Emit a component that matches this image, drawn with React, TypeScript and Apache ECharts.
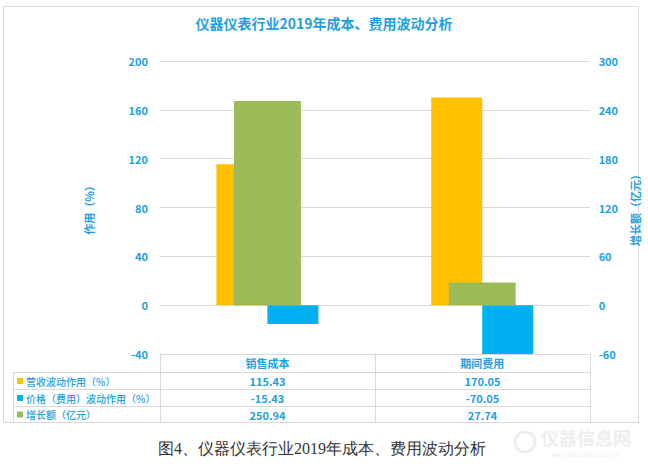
import React, { useEffect, useRef } from "react";
import * as echarts from "echarts";

const categories = ["销售成本", "期间费用"];
const seriesNames = ["营收波动作用（%）", "价格（费用）波动作用（%）", "增长额（亿元）"];
const revenueEffect = [115.43, 170.05];
const priceEffect = [-15.43, -70.05];
const growthAmount = [250.94, 27.74];
const seriesColors = ["#FFC000", "#00B0F0", "#9BBB59"];
const leftTicks = { min: -40, max: 200, interval: 40 };
const rightTicks = { min: -60, max: 300, interval: 60 };
const titleText = "仪器仪表行业2019年成本、费用波动分析";
const captionText = "图4、仪器仪表行业2019年成本、费用波动分析";

const W = 648;
const H = 464;
const GRID = { left: 160, right: 58, top: 61, bottom: 110 };
const TXT = "#1F9FDF";
const LINE = "#D9D9D9";
const FONT = "'Noto Sans CJK SC', 'Noto Sans', sans-serif";

export default function App() {
  const ref = useRef<HTMLDivElement>(null);
  useEffect(() => {
    if (!ref.current) return;
    const chart = echarts.init(ref.current, null, { renderer: "svg" });
    const x0 = GRID.left;
    const x1 = W - GRID.right;
    const catW = (x1 - x0) / categories.length;
    const tTop = H - GRID.bottom;
    const rowLines = [tTop + 18, tTop + 35, tTop + 52, tTop + 68];
    const tableLeft = 13;
    const rows = [revenueEffect, priceEffect, growthAmount];
    const graphics: any[] = [];
    graphics.push({
      type: "rect",
      shape: { x: 3.5, y: 6.5, width: 635, height: 416 },
      style: { fill: "none", stroke: LINE, lineWidth: 1 },
      silent: true,
    });
    rowLines.forEach((y) => {
      graphics.push({
        type: "line",
        shape: { x1: tableLeft, y1: y + 0.5, x2: x1, y2: y + 0.5 },
        style: { stroke: LINE, lineWidth: 1 },
      });
    });
    graphics.push({
      type: "line",
      shape: { x1: tableLeft + 0.5, y1: rowLines[0], x2: tableLeft + 0.5, y2: rowLines[3] },
      style: { stroke: LINE, lineWidth: 1 },
    });
    for (let i = 0; i <= categories.length; i++) {
      const x = Math.round(x0 + catW * i) + 0.5;
      graphics.push({
        type: "line",
        shape: { x1: x, y1: tTop, x2: x, y2: rowLines[3] },
        style: { stroke: LINE, lineWidth: 1 },
      });
    }
    rows.forEach((vals, r) => {
      const yc = (rowLines[r] + rowLines[r + 1]) / 2 + 0.5;
      graphics.push({
        type: "rect",
        shape: { x: 17, y: yc - 3, width: 6, height: 6 },
        style: { fill: seriesColors[r] },
      });
      graphics.push({
        type: "text",
        x: 26,
        y: yc,
        style: {
          text: seriesNames[r],
          fill: TXT,
          font: `500 10px ${FONT}`,
          verticalAlign: "middle",
          align: "left",
        },
      });
      vals.forEach((v, c) => {
        graphics.push({
          type: "text",
          x: x0 + catW * (c + 0.5),
          y: yc,
          style: {
            text: v.toFixed(2),
            fill: TXT,
            font: `bold 11px ${FONT}`,
            verticalAlign: "middle",
            align: "center",
          },
        });
      });
    });
    graphics.push({
      type: "text",
      x: 158,
      y: 448,
      style: {
        text: captionText,
        fill: "#333333",
        font: "16px serif",
        verticalAlign: "middle",
        align: "left",
      },
    });
    graphics.push({
      type: "text",
      x: 586,
      y: 437,
      style: {
        text: "仪器信息网",
        fill: "#EEEEEE",
        font: `bold 18px ${FONT}`,
        verticalAlign: "middle",
        align: "center",
      },
    });
    graphics.push({
      type: "text",
      x: 586,
      y: 454,
      style: {
        text: "www.instrument.com.cn",
        fill: "#F0F0F0",
        font: `6px ${FONT}`,
        verticalAlign: "middle",
        align: "center",
      },
    });
    graphics.push({
      type: "circle",
      shape: { cx: 525, cy: 442, r: 10 },
      style: { fill: "none", stroke: "#EEEEEE", lineWidth: 3 },
    });

    chart.setOption({
      animation: false,
      backgroundColor: "#FFFFFF",
      textStyle: { fontFamily: FONT },
      title: {
        text: titleText,
        left: "center",
        top: 11,
        textStyle: { color: TXT, fontSize: 14, fontWeight: "bold", fontFamily: FONT },
      },
      grid: { ...GRID, containLabel: false },
      xAxis: [
        {
          type: "category",
          data: categories,
          axisLine: { show: false },
          axisTick: { show: false },
          splitLine: { show: false },
          axisLabel: { color: TXT, fontSize: 11, margin: 3, fontWeight: "bold" },
        },
        {
          type: "category",
          data: categories,
          show: false,
        },
      ],
      yAxis: [
        {
          type: "value",
          ...leftTicks,
          name: "作用（%）",
          nameLocation: "middle",
          nameRotate: 90,
          nameGap: 66,
          nameTextStyle: { color: TXT, fontSize: 11, fontWeight: "bold" },
          axisLine: { show: false },
          axisTick: { show: false },
          axisLabel: { color: TXT, fontSize: 11, margin: 12, fontWeight: "bold" },
          splitLine: { lineStyle: { color: LINE, width: 1 } },
        },
        {
          type: "value",
          ...rightTicks,
          name: "增长额（亿元）",
          nameLocation: "middle",
          nameRotate: 90,
          nameGap: 27,
          nameTextStyle: { color: TXT, fontSize: 11, fontWeight: "bold" },
          axisLine: { show: false },
          axisTick: { show: false },
          axisLabel: { color: TXT, fontSize: 11, margin: 9, fontWeight: "bold" },
          splitLine: { show: false },
        },
      ],
      series: [
        {
          name: seriesNames[0],
          type: "bar",
          xAxisIndex: 0,
          yAxisIndex: 0,
          data: revenueEffect,
          barWidth: 51,
          barGap: "0%",
          itemStyle: { color: seriesColors[0] },
        },
        {
          name: seriesNames[1],
          type: "bar",
          xAxisIndex: 0,
          yAxisIndex: 0,
          data: priceEffect,
          barWidth: 51,
          barGap: "0%",
          itemStyle: { color: seriesColors[1] },
        },
        {
          name: seriesNames[2],
          type: "bar",
          xAxisIndex: 1,
          yAxisIndex: 1,
          data: growthAmount,
          barWidth: 67,
          itemStyle: { color: seriesColors[2] },
        },
      ],
      graphic: graphics,
    });
    return () => chart.dispose();
  }, []);
  return (
    <div
      ref={ref}
      style={{ position: "absolute", left: 0, top: 0, width: W, height: H }}
    />
  );
}
